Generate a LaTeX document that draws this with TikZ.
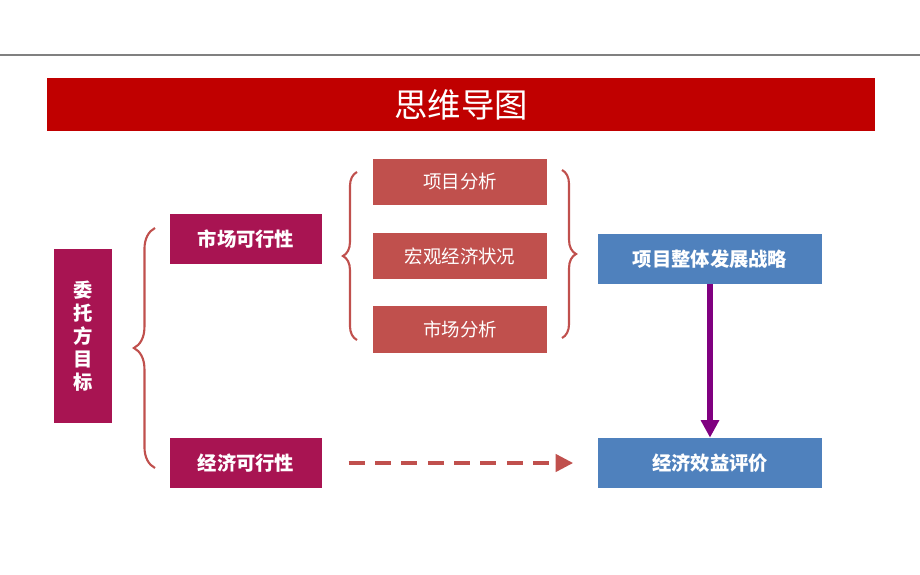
\documentclass[tikz,border=0pt]{standalone}
\usepackage{fontspec}
\setmainfont{Noto Sans CJK SC}
\usetikzlibrary{positioning, arrows.meta, decorations.pathreplacing}
\definecolor{TitleColor}{RGB}{192,0,0}
\definecolor{GoalColor}{RGB}{168,20,82}
\definecolor{TopicColor}{RGB}{192,80,77}
\definecolor{ResultColor}{RGB}{79,129,189}
\definecolor{FlowColor}{RGB}{128,0,128}
\tikzset{
  goal/.style = {fill=GoalColor, text=white, font=\bfseries\fontsize{11pt}{13pt}\selectfont, inner sep=0pt},
  topic/.style = {fill=TopicColor, text=white, minimum width=3.5cm, minimum height=0.94cm, font=\fontsize{10.5pt}{12pt}\selectfont},
  result/.style = {fill=ResultColor, text=white, minimum width=4.48cm, minimum height=1cm, font=\bfseries\fontsize{11pt}{13pt}\selectfont},
  curly/.style = {TopicColor, line width=1.2pt, decorate, decoration={brace, amplitude=12pt}}
}
\begin{document}
\begin{tikzpicture}[x=0.02cm, y=-0.02cm]
  \useasboundingbox (0,0) rectangle (920,575);
  % Header
  \draw[gray, line width=1pt] (0,55) -- (920,55);
  \fill[TitleColor] (47,78) rectangle (875,131);
  \node[text=white, font=\fontsize{19pt}{22pt}\selectfont] (title) at (461,105) {思维导图};

  % Goal and feasibility
  \node[goal, minimum width=1.16cm, minimum height=3.48cm, align=center] (goal) at (83,336) {委\\托\\方\\目\\标};
  \node[goal, minimum width=3.04cm, minimum height=1cm] (market) at (246,239) {市场可行性};
  \node[goal, minimum width=3.04cm, minimum height=1cm] (econ) at (246,463) {经济可行性};

  % Analysis items
  \node[topic] (project) at (460,182) {项目分析};
  \node[topic] (macro) at (460,256) {宏观经济状况};
  \node[topic] (marketan) at (460,329) {市场分析};

  % Results
  \node[result] (strategy) at (710,259) {项目整体发展战略};
  \node[result] (benefit) at (710,463) {经济效益评价};

  % Braces
  \draw[curly] (155,468) -- (155,228);
  \draw[curly, decoration={amplitude=8pt}] (357,340) -- (357,172);
  \draw[curly, decoration={amplitude=8pt}] (562,170) -- (562,338);

  % Connectors
  \draw[-{Triangle[length=10pt,width=10pt]}, FlowColor, line width=3.5pt] (strategy.south) -- (benefit.north);
  \draw[-{Triangle[length=10pt,width=10pt]}, TopicColor, line width=1.8pt, dash pattern=on 9pt off 6pt] ([xshift=15pt]econ.east) -- ([xshift=-14pt]benefit.west);
\end{tikzpicture}
\end{document}
